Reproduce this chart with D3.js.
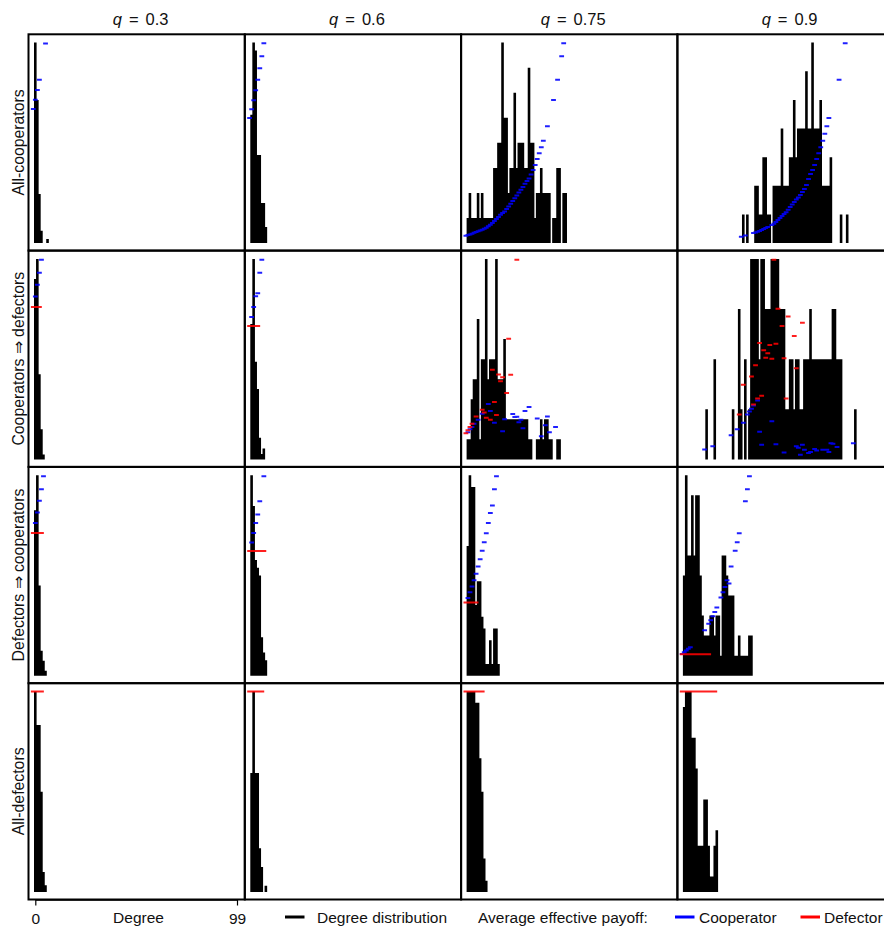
<!DOCTYPE html>
<html>
<head>
<meta charset="utf-8">
<script src="https://cdn.jsdelivr.net/npm/d3@7"></script>
<style>
  body { margin: 0; background: #fff; }
  text { font-family: "Liberation Sans", Arial, Helvetica, sans-serif; fill: #111; }
</style>
</head>
<body>
<svg id="chart" width="884" height="926"></svg>
<script>
// ---- labels ----
const qValues = ["0.3", "0.6", "0.75", "0.9"];
const regimeLabels = ["All-cooperators", "Cooperators \u21D2 defectors", "Defectors \u21D2 cooperators", "All-defectors"];
const degreeTicks = [0, 99];

// ---- degree distributions: number of nodes per degree, index = degree ----
const degAllC03 = [49, 35, 12, 3, 0, 0, 1];
const degAllC06 = [16, 25, 24, 11, 11, 5, 5, 2];
const degAllC075 = [1,2,1,1,1,2,1,2,1,1, 1,1,1,3,3,4,4,8,5,5, 2,3,3,6,3,4,4,4,3,3, 7,4,4,1,2,2,3,2,2,2, 2,0,1,1,3,3,0,2,2];
const degAllC09 = [0,0,0,0,0,0,0,0,0,0, 0,0,0,0,0,0,0,0,0,0, 0,0,0,0,0,0,0,0,0,1,
                   0,1,0,0,0,2,2,1,1,3, 3,1,1,0,2,2,2,2,4,2, 2,2,3,3,5,3,4,4,4,4,
                   6,4,4,7,4,4,4,5,2,2, 2,2,3,0,0,0,0,1,0,0, 1];

const degCtoD03 = [36, 40, 17, 6, 1];
const degCtoD06 = [25, 37, 18, 13, 4, 1, 2];
const degCtoD075 = [1,1,3,4,4,7,1,5,5,10, 4,5,5,5,10,4,4,4,6,2, 2,2,2,2,2,2,2,2,2,2, 1,1,0,0,1,1,2,1,2,2, 1,1,0,0,1,1];
const degCtoD09 = [0,0,0,0,0,0,0,0,0,0, 0,1,0,0,0,2,0,0,0,0, 0,0,0,0,1,0,0,3,1,0,
                   2,0,1,4,4,4,4,2,4,4, 3,3,3,4,4,4,4,3,3,3, 1,1,2,2,1,2,2,1,1,2,
                   2,2,3,2,2,2,2,2,2,2, 2,2,2,3,3,2,2,2,0,0, 0,0,0,0,1];

const degDtoC03 = [33, 40, 18, 5, 3, 1];
const degDtoC06 = [26, 22, 15, 14, 13, 5, 3, 2];
const degDtoC075 = [11, 17, 16, 16, 6, 8, 8, 5, 4, 1, 1, 3, 1, 4, 4, 1];
const degDtoC09 = [5,10,6,6,9,6,9,9,5,3, 2,2,2,3,3,2,3,3,1,6, 6,5,4,4,4,1,1,2,1,1, 1,1,2,2];

const degAllD03 = [30, 25, 25, 15, 3, 1];
const degAllD06 = [19, 32, 19, 19, 7, 4, 0, 1];
const degAllD075 = [18, 18, 18, 18, 17, 17, 12, 9, 3, 1];
const degAllD09 = [12, 13, 13, 13, 10, 10, 8, 3, 3, 3, 6, 6, 3, 1, 1, 3, 4];

// ---- average effective payoff, relative to the panel maximum: [degree, payoff] ----
const coopAllC03 = [[0,.669],[1,.715],[2,.764],[3,.815],[6,.996]];
const coopAllC06 = [[0,.624],[1,.667],[2,.712],[3,.762],[4,.815],[5,.872],[6,.932],[7,.997]];
const coopAllC075 = [[0,.037],[1,.040],[2,.043],[3,.047],[4,.051],[5,.055],[6,.059],[7,.063],[8,.067],[9,.071],
  [10,.077],[11,.084],[12,.091],[13,.100],[14,.110],[15,.120],[16,.130],[17,.141],[18,.150],[19,.158],
  [20,.170],[21,.183],[22,.196],[23,.210],[24,.224],[25,.238],[26,.252],[27,.266],[28,.280],[29,.296],
  [30,.310],[31,.322],[32,.342],[33,.365],[34,.390],[35,.420],[36,.448],[37,.478],[38,.511],[40,.583],
  [43,.714],[45,.815],[47,.932],[48,.997]];
const coopAllC09 = [[29,.032],[31,.038],[35,.050],[36,.053],[37,.057],[38,.060],[39,.065],[40,.070],[41,.075],[42,.080],
  [44,.090],[45,.096],[46,.105],[47,.115],[48,.125],[49,.135],[50,.145],[51,.154],[52,.166],[53,.180],
  [54,.192],[55,.205],[56,.218],[57,.228],[58,.240],[59,.255],[60,.270],[61,.290],[62,.320],[63,.345],
  [64,.365],[65,.390],[66,.420],[67,.448],[68,.478],[69,.510],[70,.545],[71,.583],[72,.624],[77,.815],[80,.997]];

const coopCtoD03 = [[1,.813],[2,.871],[3,.931],[4,.996]];
const defCtoD03 = [[0,.76],[1,.76],[2,.76],[3,.76]];
const coopCtoD06 = [[1,.71],[2,.76],[3,.814],[4,.829],[5,.931],[6,.996]];
const defCtoD06 = [[0,.665],[1,.665],[2,.665],[3,.665],[4,.665]];
const coopCtoD075 = [[1,.136],[2,.15],[3,.161],[4,.178],[6,.198],[8,.228],[11,.276],[12,.241],[14,.183],[18,.141],
  [19,.2],[23,.226],[24,.211],[25,.213],[26,.185],[27,.198],[28,.155],[29,.241],[31,.261],[35,.204],
  [37,.115],[39,.17],[40,.214],[41,.135],[44,.161]];
const defCtoD075 = [[0,.131],[1,.145],[2,.161],[3,.178],[5,.214],[8,.248],[9,.234],[10,.208],[12,.198],[13,.447],
  [14,.286],[15,.221],[16,.424],[17,.39],[18,.41],[20,.331],[21,.602],[22,.422],[25,.996]];
const coopCtoD09 = [[11,.05],[15,.065],[24,.12],[27,.15],[30,.183],[32,.224],[33,.239],[34,.253],[35,.269],[37,.294],
  [38,.138],[39,.073],[44,.19],[46,.075],[50,.035],[56,.065],[57,.058],[58,.023],[59,.073],[60,.048],
  [62,.032],[63,.037],[65,.052],[66,.045],[69,.048],[71,.048],[72,.037],[73,.081],[74,.078],[76,.062],[84,.081]];
const defCtoD09 = [[28,.224],[30,.372],[34,.414],[35,.274],[36,.47],[37,.304],[38,.58],[39,.318],[40,.544],[41,.507],
  [42,.53],[43,.57],[44,.502],[45,.996],[46,.577],[47,.751],[49,.665],[50,.505],[51,.304],[52,.713],
  [55,.615],[56,.455],[59,.682]];

const coopDtoC03 = [[1,.762],[2,.814],[3,.872],[4,.93],[5,.995]];
const defDtoC03 = [[0,.712],[1,.712],[2,.712],[3,.712],[4,.712]];
const coopDtoC06 = [[1,.664],[2,.712],[3,.762],[4,.804],[5,.87],[7,.995]];
const defDtoC06 = [[0,.622],[1,.622],[2,.622],[3,.622],[4,.622],[5,.622],[6,.622],[7,.622]];
const coopDtoC075 = [[1,.388],[2,.416],[3,.445],[4,.476],[5,.508],[6,.545],[7,.581],[8,.623],[9,.666],[10,.711],
  [11,.761],[12,.812],[13,.849],[14,.93],[15,.995]];
const defDtoC075 = [[0,.365],[1,.365],[2,.365],[3,.365],[4,.365],[5,.365]];
const coopDtoC09 = [[0,.108],[1,.117],[2,.126],[3,.134],[4,.142],[11,.227],[13,.259],[14,.277],[15,.297],[16,.318],
  [17,.34],[19,.39],[20,.416],[21,.443],[22,.476],[23,.46],[24,.545],[26,.623],[27,.666],[28,.711],
  [31,.87],[32,.93],[33,.995]];
const defDtoC09 = [[0,.107],[1,.107],[2,.107],[3,.107],[4,.107],[5,.107],[6,.107],[7,.107],[8,.107],[9,.107],
  [10,.107],[11,.107],[12,.107],[13,.107]];

const defAllD03 = [[0,1],[1,1],[2,1],[3,1],[4,1]];
const defAllD06 = [[0,1],[1,1],[2,1],[3,1],[4,1],[5,1],[6,1]];
const defAllD075 = [[0,1],[1,1],[2,1],[3,1],[4,1],[5,1],[6,1],[7,1],[8,1]];
const defAllD09 = [[0,1],[1,1],[2,1],[3,1],[4,1],[5,1],[6,1],[7,1],[8,1],[9,1],[10,1],[11,1],[12,1],[13,1],[14,1],[15,1],[16,1]];

// grid of panels: rows = regimes, columns = q
const barGrid = [
  [degAllC03, degAllC06, degAllC075, degAllC09],
  [degCtoD03, degCtoD06, degCtoD075, degCtoD09],
  [degDtoC03, degDtoC06, degDtoC075, degDtoC09],
  [degAllD03, degAllD06, degAllD075, degAllD09]
];
const coopGrid = [
  [coopAllC03, coopAllC06, coopAllC075, coopAllC09],
  [coopCtoD03, coopCtoD06, coopCtoD075, coopCtoD09],
  [coopDtoC03, coopDtoC06, coopDtoC075, coopDtoC09],
  [[], [], [], []]
];
const defGrid = [
  [[], [], [], []],
  [defCtoD03, defCtoD06, defCtoD075, defCtoD09],
  [defDtoC03, defDtoC06, defDtoC075, defDtoC09],
  [defAllD03, defAllD06, defAllD075, defAllD09]
];

// ---- layout ----
const left0 = 28.5, top0 = 34.3, cell = 216.3;
const padL = 6.8, padR = 7.8, padB = 7.5, padT = 8.3;
const barW = 2.6, dashW = 4.8, dashH = 2;
const blue = "#0000ff", red = "#ff0000";

const svg = d3.select("#chart");
svg.append("rect").attr("width", 884).attr("height", 926).attr("fill", "#fff");

barGrid.forEach((rowBars, r) => {
  rowBars.forEach((bars, c) => {
    const px = left0 + c * cell, py = top0 + r * cell;
    const x = d3.scaleLinear().domain([0, 99]).range([px + padL, px + cell - padR]);
    const yBar = d3.scaleLinear().domain([0, d3.max(bars)]).range([py + cell - padB, py + padT]);
    const yPay = d3.scaleLinear().domain([0, 1]).range([py + cell - padB, py + padT]);
    const g = svg.append("g");

    // histogram: all bars of a panel in one path so neighbouring bars merge cleanly
    const barPath = d3.path();
    bars.forEach((n, k) => {
      if (n > 0) barPath.rect(x(k) - barW / 2, yBar(n), barW, yBar(0) - yBar(n));
    });
    g.append("path").attr("d", barPath.toString()).attr("fill", "#000");

    // payoff markers: short horizontal dashes, one per degree
    const dashPath = (data, color) => {
      const p = d3.path();
      data.forEach(([k, v]) => p.rect(x(k) - 2 - dashW / 2, yPay(v) - dashH / 2, dashW, dashH));
      g.append("path").attr("d", p.toString()).attr("fill", color).attr("fill-opacity", 0.88);
    };
    dashPath(coopGrid[r][c], blue);
    dashPath(defGrid[r][c], red);

    g.append("rect")
      .attr("x", px).attr("y", py)
      .attr("width", cell).attr("height", cell)
      .attr("fill", "none").attr("stroke", "#000").attr("stroke-width", 2);
  });
});

// column titles: italic q, wide spacing around "="
qValues.forEach((q, c) => {
  const t = svg.append("text")
    .attr("x", left0 + c * cell + cell / 2 + 4)
    .attr("y", 25)
    .attr("text-anchor", "middle")
    .style("font-size", "16.5px");
  t.append("tspan").style("font-style", "italic").text("q");
  t.append("tspan").attr("dx", 7).text("=");
  t.append("tspan").attr("dx", 7).text(q);
});

// row labels
regimeLabels.forEach((lab, r) => {
  svg.append("text")
    .attr("transform", `translate(${18},${top0 + r * cell + cell / 2}) rotate(-90)`)
    .attr("text-anchor", "middle")
    .attr("dy", "0.35em")
    .style("font-size", "15.8px")
    .text(lab);
});

// degree axis under the first column
const xAxisScale = d3.scaleLinear().domain([0, 99]).range([left0 + padL, left0 + cell - padR]);
const axisG = svg.append("g")
  .attr("transform", `translate(0,${top0 + 4 * cell})`)
  .call(d3.axisBottom(xAxisScale).tickValues(degreeTicks).tickFormat(d3.format("d")).tickSize(6).tickSizeOuter(0).tickPadding(7));
axisG.select(".domain").attr("stroke", "#000").attr("stroke-width", 1.5);
axisG.selectAll(".tick line").attr("stroke", "#000").attr("stroke-width", 1.2);
axisG.selectAll(".tick text")
  .style("font-size", "15.5px")
  .style("font-family", "\"Liberation Sans\", Arial, Helvetica, sans-serif")
  .attr("fill", "#111");

const yText = 922.5, yLine = 917;
svg.append("text").attr("x", 138.5).attr("y", yText).attr("text-anchor", "middle")
  .style("font-size", "15.5px").text("Degree");

// legend
const legend = svg.append("g");
const legendItems = [
  { x1: 285, x2: 304.5, color: "#000", label: "Degree distribution", tx: 317 },
  { x1: 675, x2: 694.5, color: blue, label: "Cooperator", tx: 699 },
  { x1: 800.5, x2: 820, color: red, label: "Defector", tx: 824 }
];
legendItems.forEach(it => {
  legend.append("line").attr("x1", it.x1).attr("x2", it.x2).attr("y1", yLine).attr("y2", yLine)
    .attr("stroke", it.color).attr("stroke-width", 3);
  legend.append("text").attr("x", it.tx).attr("y", yText).style("font-size", "15.5px").text(it.label);
});
legend.append("text").attr("x", 478).attr("y", yText).style("font-size", "15.5px").text("Average effective payoff:");
</script>
</body>
</html>
